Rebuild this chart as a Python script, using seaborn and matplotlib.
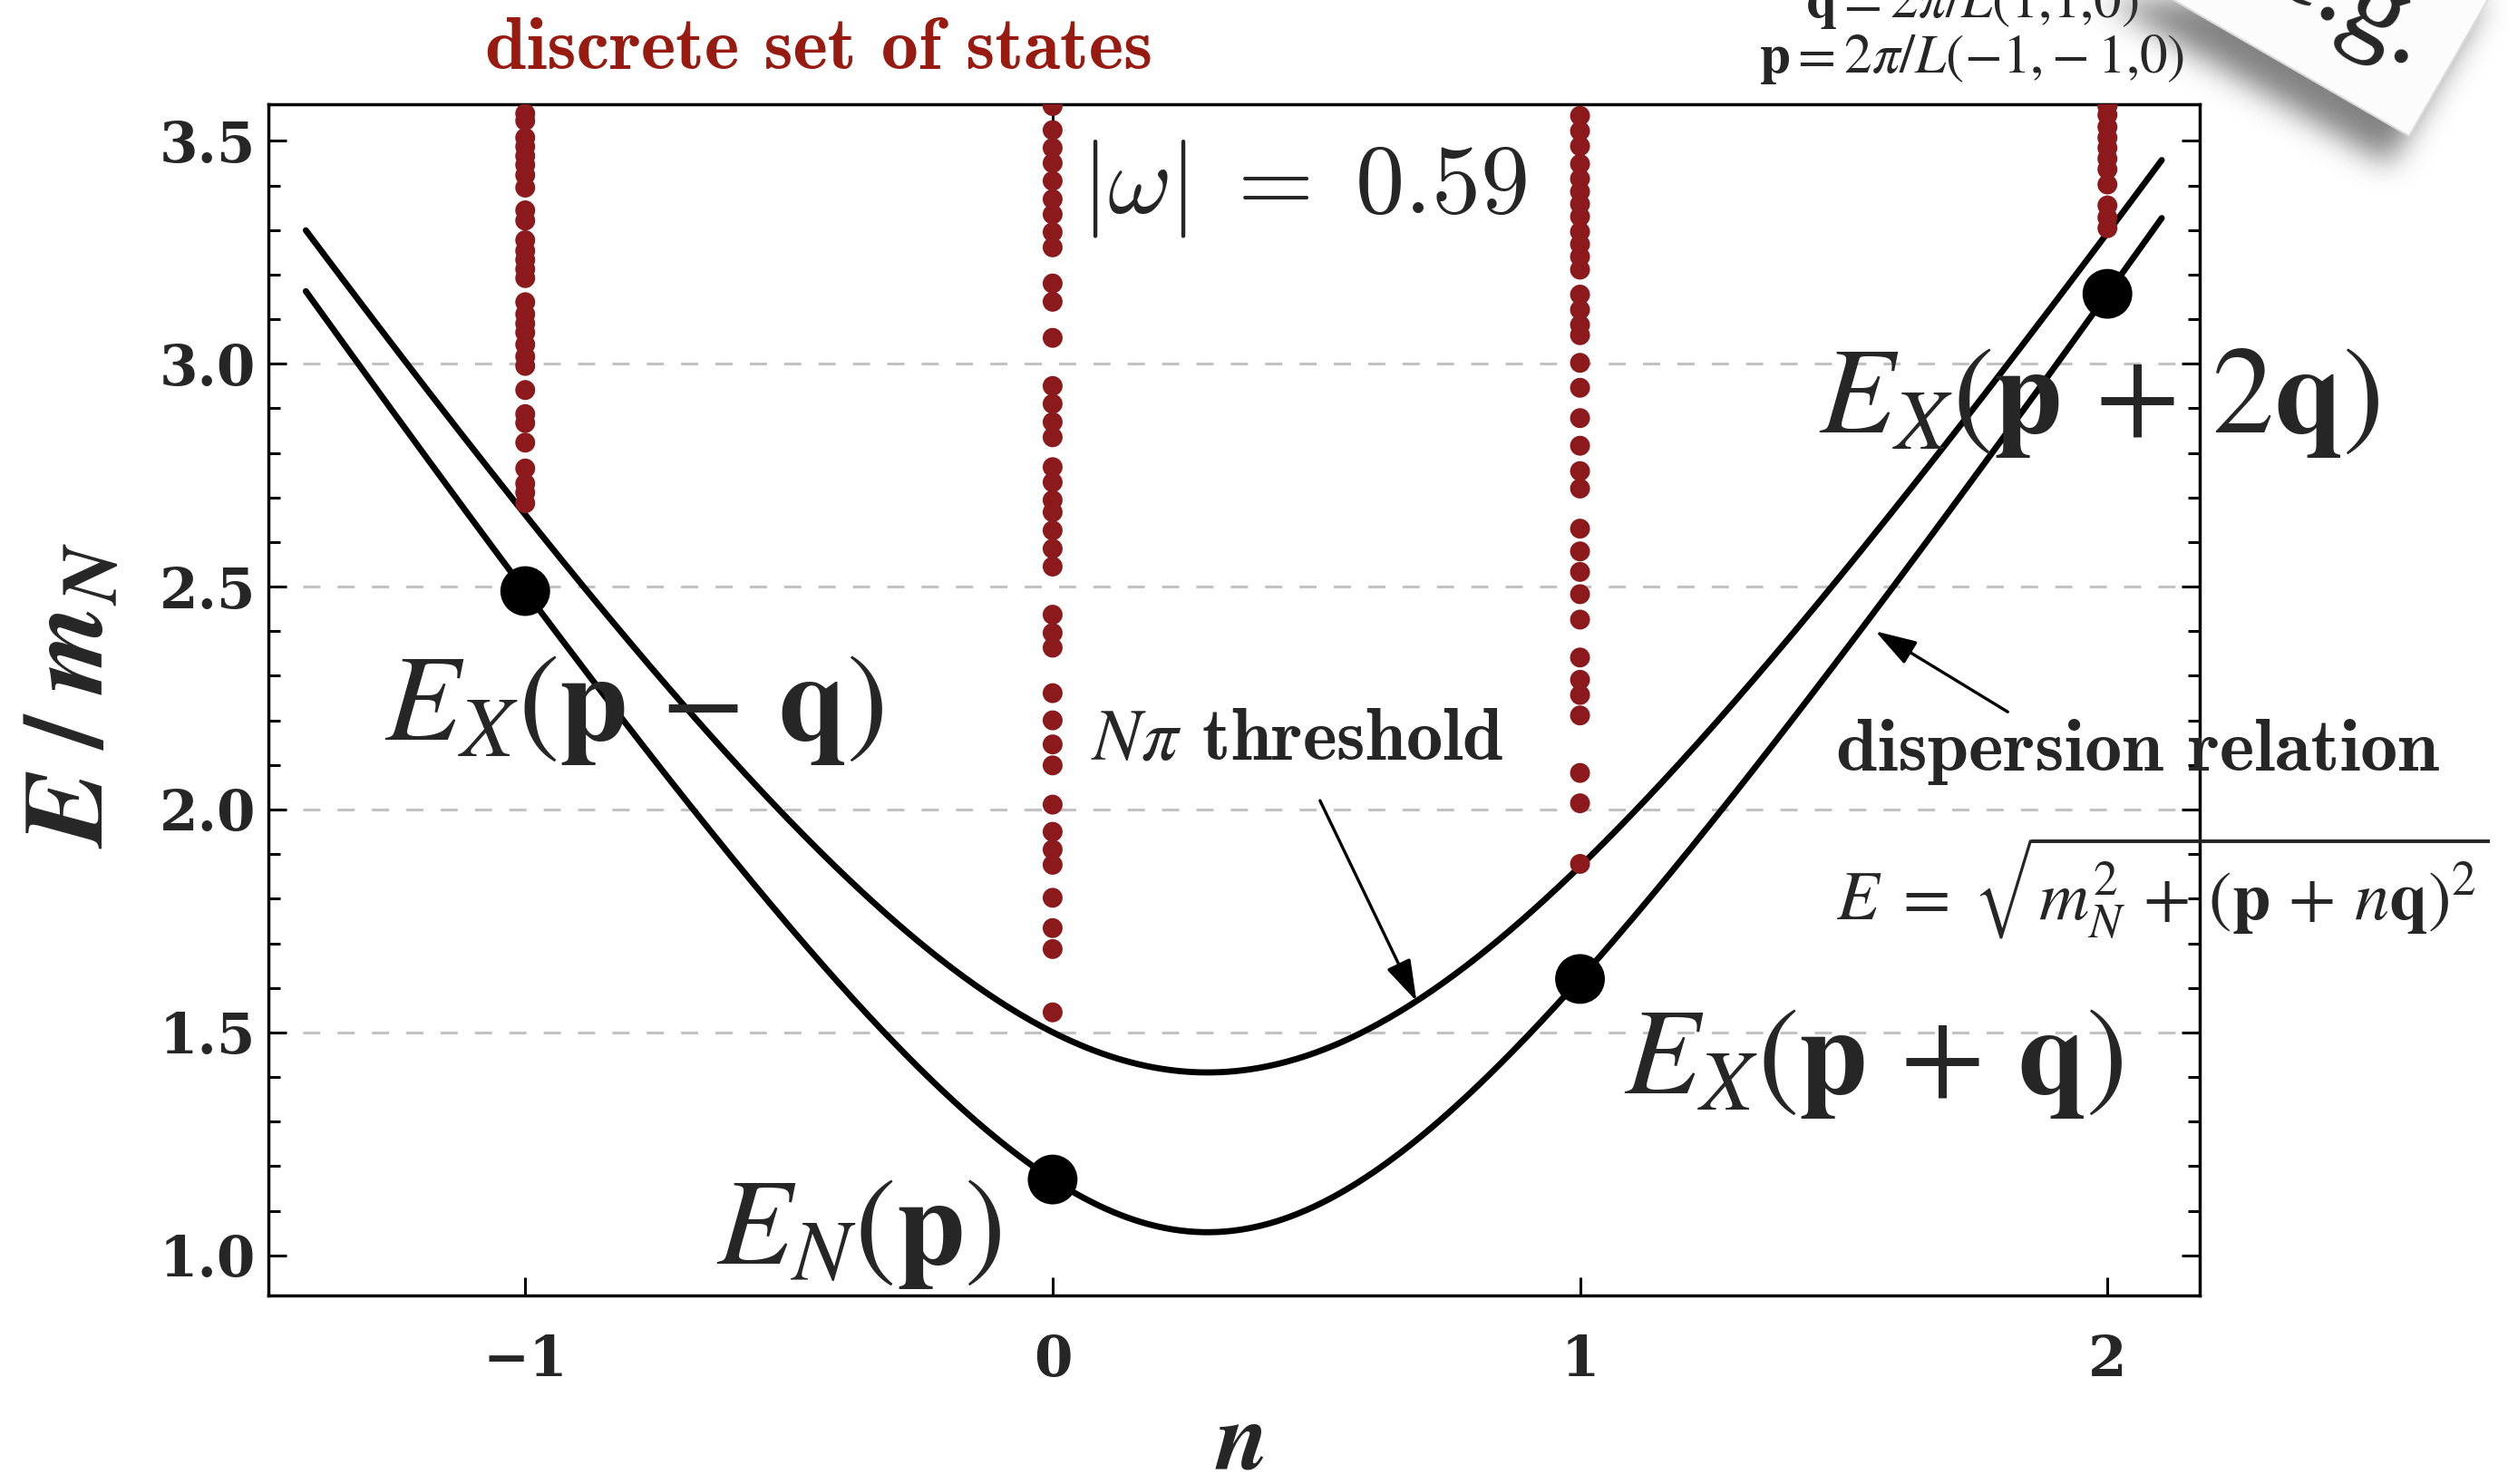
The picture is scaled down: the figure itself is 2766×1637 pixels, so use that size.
import numpy as np
import pandas as pd
import matplotlib
matplotlib.use("Agg")
import matplotlib.pyplot as plt
from matplotlib.ticker import MultipleLocator, NullLocator
from matplotlib.patches import Polygon
from matplotlib.path import Path
import seaborn as sns

# ---------------------------------------------------------------- data
n_values = [-1, 0, 1, 2]

# kinematics in units of the nucleon mass
m_N = 1.0
m_Npi = 1.372          # (m_N + m_pi) / m_N, N-pi threshold mass
p_sq = 0.369           # |p|^2
p_dot_q = -0.894       # p . q
q_sq = 3.043           # |q|^2
n_range = (-1.416, 2.103)

# discrete finite-volume spectrum E/m_N at each momentum shift n
levels_m1 = [3.561, 3.545, 3.507, 3.487, 3.466, 3.446, 3.423, 3.395, 3.344, 3.321,
             3.277, 3.253, 3.233, 3.212, 3.192, 3.138, 3.111, 3.090, 3.070, 3.043,
             3.016, 2.995, 2.941, 2.887, 2.867, 2.823, 2.765, 2.731, 2.711, 2.687]
levels_0 = [3.578, 3.524, 3.484, 3.450, 3.410, 3.369, 3.335, 3.295, 3.261, 3.180,
            3.139, 3.058, 2.950, 2.910, 2.869, 2.835, 2.768, 2.734, 2.694, 2.667,
            2.626, 2.585, 2.545, 2.437, 2.396, 2.363, 2.261, 2.200, 2.146, 2.099,
            2.011, 1.950, 1.910, 1.876, 1.802, 1.734, 1.687, 1.545]
levels_1 = [3.556, 3.522, 3.488, 3.448, 3.415, 3.386, 3.358, 3.330, 3.296, 3.268,
            3.240, 3.211, 3.155, 3.121, 3.087, 3.064, 3.002, 2.946, 2.878, 2.816,
            2.759, 2.720, 2.630, 2.579, 2.533, 2.483, 2.426, 2.341, 2.291, 2.257,
            2.211, 2.082, 2.014, 1.878]
levels_2 = [3.578, 3.558, 3.531, 3.507, 3.484, 3.460, 3.436, 3.402, 3.355, 3.328,
            3.304]

y_major = [1.0, 1.5, 2.0, 2.5, 3.0, 3.5]
grid_levels = [1.5, 2.0, 2.5, 3.0]

point_labels = [r"$E_X(\mathbf{p}\,-\,\mathbf{q})$", r"$E_N(\mathbf{p})$",
                r"$E_X(\mathbf{p}\,+\,\mathbf{q})$", r"$E_X(\mathbf{p}\,+\,2\mathbf{q})$"]
omega_label = r"$|\omega|\;=\;0.59$"
p_vec_label = r"$\mathbf{p} = 2\pi/L(-1{,}-1{,}0)$"
q_vec_label = r"$\mathbf{q} = 2\pi/L(1{,}1{,}0)$"

# ---------------------------------------------------------------- style
sns.set_theme(style="ticks")
plt.rcParams.update({
    "font.family": ["DejaVu Serif"],
    "axes.unicode_minus": True,
    "mathtext.fontset": "stix",
    "axes.linewidth": 2.5,
})

W, H = 2766, 1637
DARK_RED = "#8c1a1d"
TITLE_RED = "#981b12"
CM_BOLD = ["cmb10", "DejaVu Serif"]

fig = plt.figure(figsize=(W / 100, H / 100), dpi=100)
fig.patch.set_facecolor("white")
ax = fig.add_axes([296 / W, 1 - 1429 / H, (2426 - 296) / W, (1429 - 115) / H])
ax.set_facecolor("white")


def fpos(x, y):
    """pixel position (from top-left) -> figure fraction"""
    return x / W, 1 - y / H


# ---------------------------------------------------------------- curves
n_grid = np.linspace(n_range[0], n_range[1], 500)
P2 = p_sq + 2 * n_grid * p_dot_q + n_grid ** 2 * q_sq
curves = pd.DataFrame({
    "n": np.concatenate([n_grid, n_grid]),
    "E": np.concatenate([np.sqrt(m_N ** 2 + P2), np.sqrt(m_Npi ** 2 + P2)]),
    "curve": ["dispersion"] * len(n_grid) + ["threshold"] * len(n_grid),
})
sns.lineplot(data=curves, x="n", y="E", hue="curve",
             palette={"dispersion": "black", "threshold": "black"},
             estimator=None, sort=False, lw=4.9, legend=False, ax=ax, zorder=2)

for g in grid_levels:
    ax.axhline(g, color="#c2c2c2", lw=2.2, dashes=(6.2, 6.2), zorder=0.5)

# discrete spectrum
level_df = pd.DataFrame({
    "n": [n_values[0]] * len(levels_m1) + [n_values[1]] * len(levels_0)
         + [n_values[2]] * len(levels_1) + [n_values[3]] * len(levels_2),
    "E": levels_m1 + levels_0 + levels_1 + levels_2,
})
sns.scatterplot(data=level_df, x="n", y="E", color=DARK_RED, s=250,
                linewidth=0, edgecolor="none", ax=ax, zorder=3, legend=False)

# single-particle energies on the dispersion curve
n_pts = np.array(n_values, dtype=float)
pts = pd.DataFrame({"n": n_pts,
                    "E": np.sqrt(m_N ** 2 + p_sq + 2 * n_pts * p_dot_q + n_pts ** 2 * q_sq)})
sns.scatterplot(data=pts, x="n", y="E", color="black", s=1560, linewidth=0,
                edgecolor="none", ax=ax, zorder=4, legend=False)

# ---------------------------------------------------------------- axes
ax.set_xlim(-1.487, 2.175)
ax.set_ylim(0.910, 3.582)
ax.set_xticks(n_values)
ax.set_xticklabels([f"{v}".replace("-", "\u2212") for v in n_values])
ax.set_yticks(y_major)
ax.set_yticklabels([f"{v:.1f}" for v in y_major])
ax.yaxis.set_minor_locator(MultipleLocator(0.1))
ax.xaxis.set_minor_locator(NullLocator())
ax.tick_params(which="both", direction="in", top=True, right=True, width=2.2,
               color="black")
ax.tick_params(which="major", length=14.4)
ax.tick_params(which="minor", length=9.4)
ax.tick_params(axis="y", which="major", pad=10, labelsize=44)
ax.tick_params(axis="x", which="major", pad=30, labelsize=44)
for lbl in ax.get_xticklabels() + ax.get_yticklabels():
    lbl.set_fontweight("bold")
for sp in ax.spines.values():
    sp.set_visible(True)
    sp.set_color("black")
    sp.set_linewidth(2.5)

ax.set_xlabel(r"$\mathbfit{n}$", fontsize=76)
ax.xaxis.set_label_coords((1367 - 296) / 2130, (1429 - 1590) / 1314)
ax.xaxis.label.set_va("center")
ax.set_ylabel(r"$\mathbfit{E}\;\mathbf{/}\;\mathbfit{m}_{\mathbfit{N}}$", fontsize=90)
ax.yaxis.set_label_coords((79 - 296) / 2130, (1429 - 767) / 1314)
ax.yaxis.label.set_va("center")

# ---------------------------------------------------------------- annotations
fig.text(*fpos(903, 55), "discrete set of states", color=TITLE_RED,
         family=CM_BOLD, fontsize=59, ha="center", va="center")
fig.text(*fpos(1438, 208), omega_label, math_fontfamily="cm", fontsize=78,
         ha="center", va="center")

label_centers = [(699, 780), (947, 1358), (2066, 1170), (2315, 441)]
for txt, (cx, cy) in zip(point_labels, label_centers):
    fig.text(*fpos(cx, cy), txt, fontsize=98, ha="center", va="center", zorder=6)

fig.text(*fpos(1431, 817), r"$N\pi$ threshold", family=CM_BOLD,
         math_fontfamily="stix", fontsize=58, ha="center", va="center")
ax.annotate("", xy=(0.69, 1.57), xytext=(0.507, 2.02),
            arrowprops=dict(arrowstyle="-|>,head_length=0.7,head_width=0.22",
                            color="black", lw=2.4, mutation_scale=40,
                            shrinkA=0, shrinkB=0), zorder=5)

fig.text(*fpos(2357, 829), "dispersion relation", family=CM_BOLD,
         fontsize=59, ha="center", va="center")
fig.text(*fpos(2385, 979), r"$E\;=\;\sqrt{m_N^2\,+\,(\mathbf{p}\,+\,n\mathbf{q})^2}$",
         fontsize=55, ha="center", va="center")
ax.annotate("", xy=(1.56, 2.40), xytext=(1.811, 2.219),
            arrowprops=dict(arrowstyle="-|>,head_length=0.7,head_width=0.22",
                            color="black", lw=2.4, mutation_scale=40,
                            shrinkA=0, shrinkB=0), zorder=5)

fig.text(*fpos(2175, 65), p_vec_label, fontsize=44, ha="center", va="center")
fig.text(*fpos(2175, 4), q_vec_label, fontsize=44, ha="center", va="center")

# ---------------------------------------------------------------- note card
deco = fig.add_axes([0, 0, 1, 1], zorder=10)
deco.patch.set_facecolor("none")
deco.axis("off")

corner = np.array([2657.0, 150.0])
ang = np.radians(30)
u1 = np.array([-np.cos(ang), -np.sin(ang)])
u2 = np.array([np.sin(ang), -np.cos(ang)])
side = 560
card = np.array([corner, corner + side * u1, corner + side * (u1 + u2), corner + side * u2])

x0, x1, y0, y1 = 2150, W, 0, 340
xx, yy = np.meshgrid(np.arange(x0, x1) + 0.5, np.arange(y0, y1) + 0.5)
shadow = Path(card + np.array([-22.0, 32.0]))
mask = shadow.contains_points(np.c_[xx.ravel(), yy.ravel()]).reshape(xx.shape).astype(float)
sigma = 16
kern = np.exp(-0.5 * (np.arange(-3 * sigma, 3 * sigma + 1) / sigma) ** 2)
kern /= kern.sum()
blur = np.apply_along_axis(lambda r: np.convolve(r, kern, mode="same"), 1, mask)
blur = np.apply_along_axis(lambda c: np.convolve(c, kern, mode="same"), 0, blur)
rgba = np.zeros(mask.shape + (4,))
rgba[..., :3] = 0.3
rgba[..., 3] = 0.7 * blur
deco.imshow(rgba, extent=(x0, x1, y1, y0), interpolation="bilinear",
            aspect="auto", zorder=1)
deco.add_patch(Polygon(card, closed=True, facecolor="#fcfcfc",
                       edgecolor="#dcdcdc", lw=1.5, zorder=2))
deco.text(2580, 32, "e.g.", family=["Liberation Serif", "DejaVu Serif"],
          fontsize=90, rotation=-30, rotation_mode="anchor",
          ha="center", va="baseline", zorder=3)
deco.set_xlim(0, W)
deco.set_ylim(H, 0)

fig.savefig("out.png", dpi=100, facecolor="white")
